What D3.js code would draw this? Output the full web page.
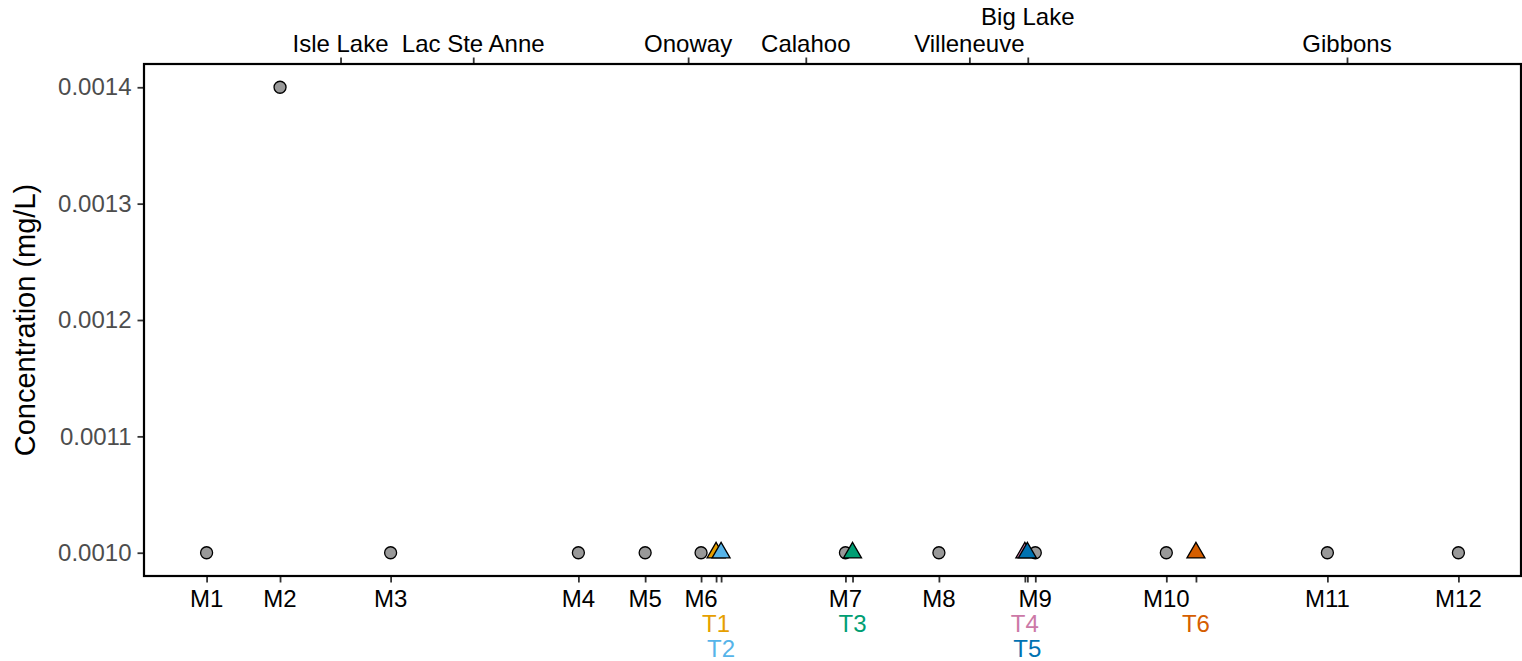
<!DOCTYPE html>
<html>
<head>
<meta charset="utf-8">
<script src="https://cdn.jsdelivr.net/npm/d3@7"></script>
<style>
  html, body { margin: 0; padding: 0; background: #ffffff; }
  svg { display: block; }
  text { font-family: "Liberation Sans", Arial, Helvetica, sans-serif; }
</style>
</head>
<body>
<svg id="chart" width="1522" height="661"></svg>
<script>
// ---- data (distance along river, arbitrary km-like units) ----
const mainSites = ["M1","M2","M3","M4","M5","M6","M7","M8","M9","M10","M11","M12"];
const mainDist  = [0, 17.6, 44.1, 89.1, 105.1, 118.5, 153.1, 175.5, 198.6, 230.0, 268.6, 300];
const mainConc  = [0.0010, 0.0014, 0.0010, 0.0010, 0.0010, 0.0010, 0.0010, 0.0010, 0.0010, 0.0010, 0.0010, 0.0010];

const tribSites = ["T1","T2","T3","T4","T5","T6"];
const tribDist  = [122.1, 123.3, 154.8, 196.1, 196.7, 237.1];
const tribConc  = [0.0010, 0.0010, 0.0010, 0.0010, 0.0010, 0.0010];
const tribRow   = [1, 2, 1, 1, 2, 1];
const tribColors = ["#E69F00","#56B4E9","#009E73","#CC79A7","#0072B2","#D55E00"];

const places     = ["Isle Lake","Lac Ste Anne","Onoway","Calahoo","Villeneuve","Big Lake","Gibbons"];
const placeDist  = [32.1, 63.9, 115.4, 143.6, 182.8, 196.8, 273.3];
const placeRow   = [0, 0, 0, 0, 0, 1, 0];

const yTicks = [0.0010, 0.0011, 0.0012, 0.0013, 0.0014];
const yTitle = "Concentration (mg/L)";

// ---- layout ----
const svg = d3.select("#chart");
const pLeft = 144, pRight = 1521, pTop = 64, pBottom = 576;

const dMin = d3.min(mainDist), dMax = d3.max(mainDist);
const dPad = (dMax - dMin) * 0.05;
const x = d3.scaleLinear().domain([dMin - dPad, dMax + dPad]).range([pLeft, pRight]);

const cMin = d3.min(mainConc.concat(tribConc)), cMax = d3.max(mainConc.concat(tribConc));
const cPad = (cMax - cMin) * 0.05;
const y = d3.scaleLinear().domain([cMin - cPad, cMax + cPad]).range([pBottom, pTop]);

const tickFont = 24;
const lineH = 25;

// y axis
const yAxis = d3.axisLeft(y).tickValues(yTicks).tickFormat(d3.format(".4f")).tickSize(6.5).tickPadding(6);
const gy = svg.append("g").attr("transform", `translate(${pLeft},0)`).call(yAxis);
gy.select(".domain").remove();
gy.selectAll(".tick line").attr("stroke", "#333333").attr("stroke-width", 1.8);
gy.selectAll(".tick text").attr("fill", "#4D4D4D").style("font-size", tickFont + "px")
  .style("font-family", '"Liberation Sans", Arial, sans-serif');

// bottom axis ticks (main + tributaries)
const allBottom = mainDist.concat(tribDist);
const xAxisB = d3.axisBottom(x).tickValues(allBottom).tickFormat("").tickSize(6.5);
const gxb = svg.append("g").attr("transform", `translate(0,${pBottom})`).call(xAxisB);
gxb.select(".domain").remove();
gxb.selectAll(".tick line").attr("stroke", "#333333").attr("stroke-width", 1.8);

// bottom labels
svg.append("g").selectAll("text.mlab").data(mainSites).join("text")
  .attr("class", "mlab")
  .attr("x", (d, i) => x(mainDist[i]))
  .attr("y", pBottom + 31)
  .attr("text-anchor", "middle")
  .attr("fill", "#000000")
  .style("font-size", tickFont + "px")
  .text(d => d);

svg.append("g").selectAll("text.tlab").data(tribSites).join("text")
  .attr("class", "tlab")
  .attr("x", (d, i) => x(tribDist[i]))
  .attr("y", (d, i) => pBottom + 31 + tribRow[i] * lineH)
  .attr("text-anchor", "middle")
  .attr("fill", (d, i) => tribColors[i])
  .style("font-size", tickFont + "px")
  .text(d => d);

// top axis
const xAxisT = d3.axisTop(x).tickValues(placeDist).tickFormat("").tickSize(6.5);
const gxt = svg.append("g").attr("transform", `translate(0,${pTop})`).call(xAxisT);
gxt.select(".domain").remove();
gxt.selectAll(".tick line").attr("stroke", "#333333").attr("stroke-width", 1.8);

svg.append("g").selectAll("text.plab").data(places).join("text")
  .attr("class", "plab")
  .attr("x", (d, i) => x(placeDist[i]))
  .attr("y", (d, i) => pTop - 12 - placeRow[i] * 27)
  .attr("text-anchor", "middle")
  .attr("fill", "#000000")
  .style("font-size", tickFont + "px")
  .text(d => d);

// panel border
svg.append("rect")
  .attr("x", pLeft).attr("y", pTop)
  .attr("width", pRight - pLeft).attr("height", pBottom - pTop)
  .attr("fill", "none").attr("stroke", "#000000").attr("stroke-width", 2.2);

// y title
svg.append("text")
  .attr("transform", `translate(35,${(pTop + pBottom) / 2}) rotate(-90)`)
  .attr("text-anchor", "middle")
  .attr("fill", "#000000")
  .style("font-size", "29px")
  .text(yTitle);

// points: main stem circles
svg.append("g").selectAll("circle").data(mainConc).join("circle")
  .attr("cx", (d, i) => x(mainDist[i]))
  .attr("cy", d => y(d))
  .attr("r", 6)
  .attr("fill", "#999999")
  .attr("stroke", "#000000")
  .attr("stroke-width", 1.3);

// tributaries: triangles
const triSym = d3.symbol().type(d3.symbolTriangle).size(140);
svg.append("g").selectAll("path").data(tribConc).join("path")
  .attr("d", triSym)
  .attr("transform", (d, i) => `translate(${x(tribDist[i])},${y(d)})`)
  .attr("fill", (d, i) => tribColors[i])
  .attr("stroke", "#000000")
  .attr("stroke-width", 1.3);
</script>
</body>
</html>
